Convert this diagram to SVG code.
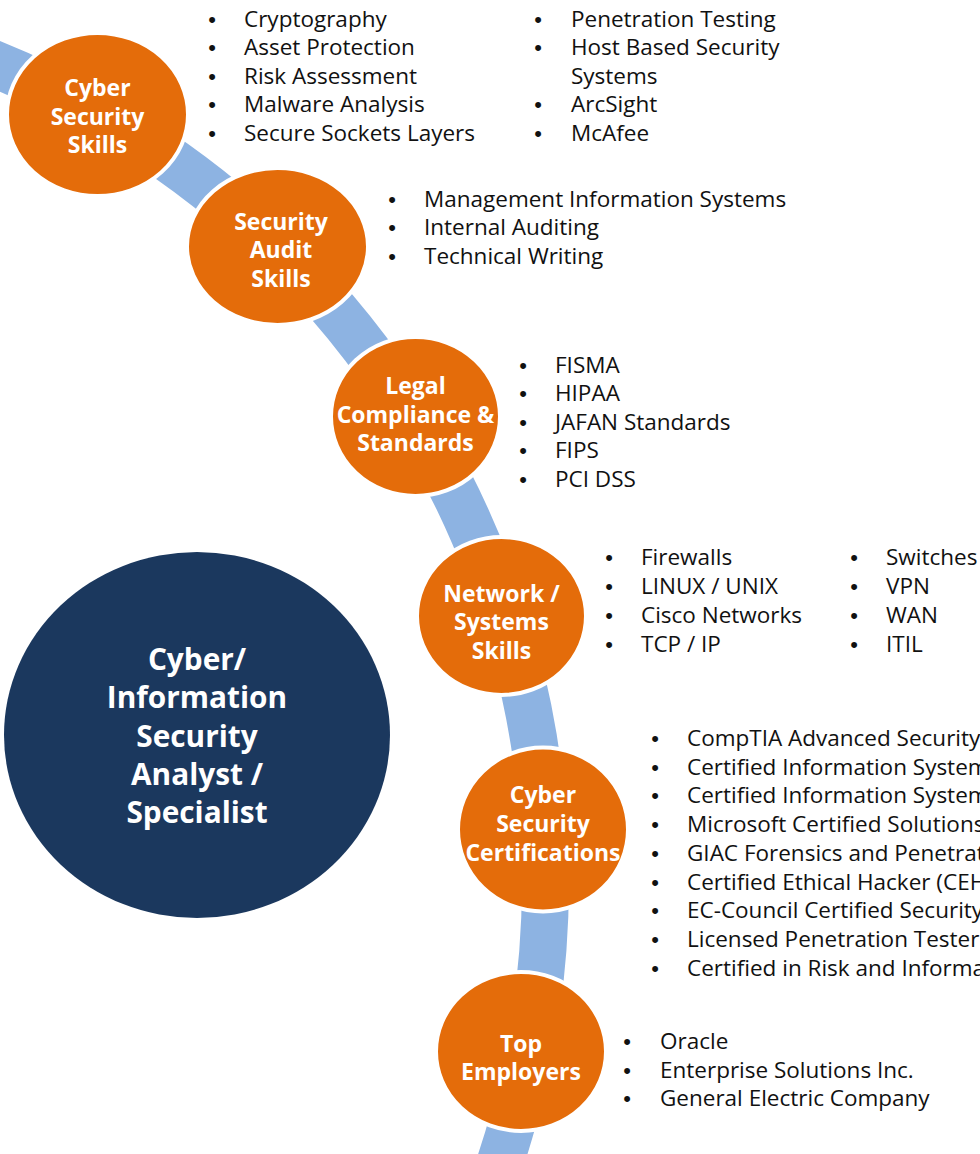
<svg xmlns="http://www.w3.org/2000/svg" width="980" height="1154" viewBox="0 0 980 1154">
<style>
  .band { fill: none; stroke: #8DB3E2; stroke-width: 47; }
  .node { fill: #E46C0A; stroke: #FFFFFF; stroke-width: 4; }
  .hub { fill: #1B385E; }
  .lbl { font-family: "Open Sans", "Noto Sans", "Liberation Sans", sans-serif; font-weight: bold; font-size: 23px; fill: #FFFFFF; text-anchor: middle; }
  .hubl { font-family: "Open Sans", "Noto Sans", "Liberation Sans", sans-serif; font-weight: bold; font-size: 29.8px; fill: #FFFFFF; text-anchor: middle; }
  .li { font-family: "Open Sans", "Noto Sans", "Liberation Sans", sans-serif; font-size: 22.5px; fill: #111111; }
  .b { font-family: "Liberation Sans", Arial, sans-serif; font-size: 22px; fill: #111111; text-anchor: middle; }
</style>
<rect width="980" height="1154" fill="#FFFFFF"/>
<g id="connectors">
  <path class="band" d="M -339 -1 A 884 884 0 0 1 427 1325"/>
</g>
<g id="hub">
  <ellipse class="hub" cx="197" cy="735" rx="193" ry="183"/>
  <text class="hubl" x="197" y="670">Cyber/</text>
  <text class="hubl" x="197" y="708">Information</text>
  <text class="hubl" x="197" y="747">Security</text>
  <text class="hubl" x="197" y="785">Analyst /</text>
  <text class="hubl" x="197" y="823">Specialist</text>
</g>
<g id="cyber-security-skills">
  <ellipse class="node" cx="97.5" cy="114.5" rx="90.5" ry="81.5"/>
  <text class="lbl" x="97.5" y="96">Cyber</text>
  <text class="lbl" x="97.5" y="125">Security</text>
  <text class="lbl" x="97.5" y="153">Skills</text>
  <g>
    <text class="b" x="212" y="26.5">•</text><text class="li" x="244" y="26.5">Cryptography</text>
    <text class="b" x="212" y="55">•</text><text class="li" x="244" y="55">Asset Protection</text>
    <text class="b" x="212" y="83.5">•</text><text class="li" x="244" y="83.5">Risk Assessment</text>
    <text class="b" x="212" y="112">•</text><text class="li" x="244" y="112">Malware Analysis</text>
    <text class="b" x="212" y="140.5">•</text><text class="li" x="244" y="140.5">Secure Sockets Layers</text>
    <text class="b" x="538" y="26.5">•</text><text class="li" x="571" y="26.5">Penetration Testing</text>
    <text class="b" x="538" y="55">•</text><text class="li" x="571" y="55">Host Based Security</text>
    <text class="li" x="571" y="83.5">Systems</text>
    <text class="b" x="538" y="112">•</text><text class="li" x="571" y="112">ArcSight</text>
    <text class="b" x="538" y="140.5">•</text><text class="li" x="571" y="140.5">McAfee</text>
  </g>
</g>
<g id="security-audit-skills">
  <ellipse class="node" cx="277.5" cy="246.5" rx="90.5" ry="78.5"/>
  <text class="lbl" x="281" y="230">Security</text>
  <text class="lbl" x="281" y="258">Audit</text>
  <text class="lbl" x="281" y="287">Skills</text>
  <g>
    <text class="b" x="392" y="206.5">•</text><text class="li" x="424" y="206.5">Management Information Systems</text>
    <text class="b" x="392" y="235">•</text><text class="li" x="424" y="235">Internal Auditing</text>
    <text class="b" x="392" y="263.5">•</text><text class="li" x="424" y="263.5">Technical Writing</text>
  </g>
</g>
<g id="legal-compliance">
  <ellipse class="node" cx="415.5" cy="416.5" rx="84.5" ry="79.5"/>
  <text class="lbl" x="415.5" y="394">Legal</text>
  <text class="lbl" x="415.5" y="422.5">Compliance &amp;</text>
  <text class="lbl" x="415.5" y="451">Standards</text>
  <g>
    <text class="b" x="523" y="372.5">•</text><text class="li" x="555" y="372.5">FISMA</text>
    <text class="b" x="523" y="401">•</text><text class="li" x="555" y="401">HIPAA</text>
    <text class="b" x="523" y="429.5">•</text><text class="li" x="555" y="429.5">JAFAN Standards</text>
    <text class="b" x="523" y="458">•</text><text class="li" x="555" y="458">FIPS</text>
    <text class="b" x="523" y="486.5">•</text><text class="li" x="555" y="486.5">PCI DSS</text>
  </g>
</g>
<g id="network-systems-skills">
  <ellipse class="node" cx="501.5" cy="616" rx="84.5" ry="79"/>
  <text class="lbl" x="501.5" y="602">Network /</text>
  <text class="lbl" x="501.5" y="630">Systems</text>
  <text class="lbl" x="501.5" y="659">Skills</text>
  <g>
    <text class="b" x="609" y="565">•</text><text class="li" x="641" y="565">Firewalls</text>
    <text class="b" x="609" y="594">•</text><text class="li" x="641" y="594">LINUX / UNIX</text>
    <text class="b" x="609" y="623">•</text><text class="li" x="641" y="623">Cisco Networks</text>
    <text class="b" x="609" y="651.5">•</text><text class="li" x="641" y="651.5">TCP / IP</text>
    <text class="b" x="854" y="565">•</text><text class="li" x="886" y="565">Switches</text>
    <text class="b" x="854" y="594">•</text><text class="li" x="886" y="594">VPN</text>
    <text class="b" x="854" y="623">•</text><text class="li" x="886" y="623">WAN</text>
    <text class="b" x="854" y="651.5">•</text><text class="li" x="886" y="651.5">ITIL</text>
  </g>
</g>
<g id="cyber-security-certifications">
  <ellipse class="node" cx="543" cy="829.5" rx="85" ry="82"/>
  <text class="lbl" x="543" y="803">Cyber</text>
  <text class="lbl" x="543" y="832">Security</text>
  <text class="lbl" x="543" y="861">Certifications</text>
  <g>
    <text class="b" x="655" y="745.5">•</text><text class="li" x="687" y="745.5">CompTIA Advanced Security</text>
    <text class="b" x="655" y="774.5">•</text><text class="li" x="687" y="774.5">Certified Information Systems</text>
    <text class="b" x="655" y="803">•</text><text class="li" x="687" y="803">Certified Information Systems</text>
    <text class="b" x="655" y="832">•</text><text class="li" x="687" y="832">Microsoft Certified Solutions</text>
    <text class="b" x="655" y="860.5">•</text><text class="li" x="687" y="860.5">GIAC Forensics and Penetration</text>
    <text class="b" x="655" y="889.5">•</text><text class="li" x="687" y="889.5">Certified Ethical Hacker (CEH)</text>
    <text class="b" x="655" y="918">•</text><text class="li" x="687" y="918">EC-Council Certified Security</text>
    <text class="b" x="655" y="947">•</text><text class="li" x="687" y="947">Licensed Penetration Tester</text>
    <text class="b" x="655" y="975.5">•</text><text class="li" x="687" y="975.5">Certified in Risk and Information</text>
  </g>
</g>
<g id="top-employers">
  <ellipse class="node" cx="521" cy="1051.5" rx="85" ry="79.5"/>
  <text class="lbl" x="521" y="1052">Top</text>
  <text class="lbl" x="521" y="1080">Employers</text>
  <g>
    <text class="b" x="627" y="1049">•</text><text class="li" x="660" y="1049">Oracle</text>
    <text class="b" x="627" y="1077.5">•</text><text class="li" x="660" y="1077.5">Enterprise Solutions Inc.</text>
    <text class="b" x="627" y="1106">•</text><text class="li" x="660" y="1106">General Electric Company</text>
  </g>
</g>
</svg>
